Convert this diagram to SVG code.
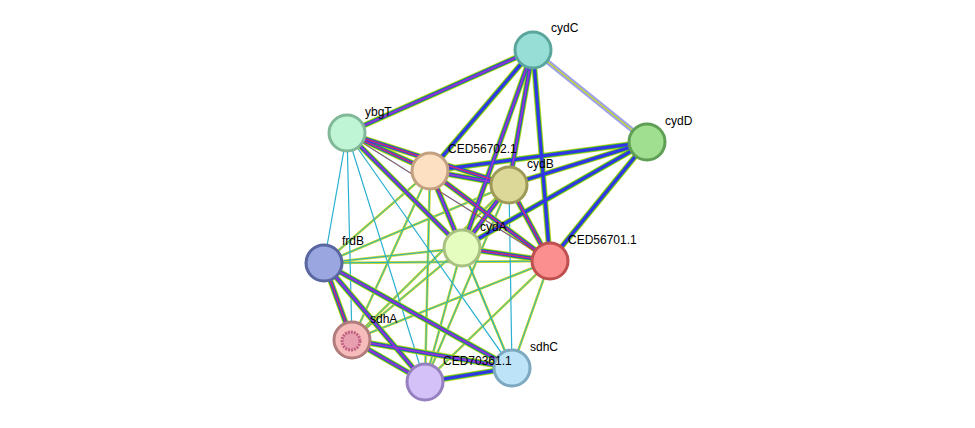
<svg xmlns="http://www.w3.org/2000/svg" width="975" height="428" viewBox="0 0 975 428">
<style>
.a{stroke:#c8d630;stroke-width:6;fill:none}
.b{stroke:#30b830;stroke-width:4.4;fill:none}
.c{stroke:#3333e8;stroke-width:3;fill:none}
.d{stroke:#9a3ad0;stroke-width:1.6;fill:none}
.e{stroke:#e03030;stroke-width:0.8;fill:none}
.t1{stroke:#c8d630;stroke-width:2.6;fill:none}
.t2{stroke:#2ab5b5;stroke-width:1;fill:none}
.cy{stroke:#2ab0d0;stroke-width:1.2;fill:none}
circle{stroke-width:3}
text{font-family:"Liberation Sans",Arial,sans-serif;font-size:12px;fill:#000}
</style>
<rect width="975" height="428" fill="#fff"/>
<g id="edges">
<g id="thin">
<path class="t1" d="M324 263L462 248M324 263L550 261M324 263L430 171M352 340L462 248M352 340L509 185M352 340L430 171M425 382L462 248M425 382L430 171M512 368L462 248M512 368L550 261M512 368L430 171M425 382L550 261M425 382L509 185M324 263L509 185M352 340L550 261"/>
<path class="t2" d="M324 263L462 248M324 263L550 261M324 263L430 171M352 340L462 248M352 340L509 185M352 340L430 171M425 382L462 248M425 382L430 171M512 368L462 248M512 368L550 261M512 368L430 171M425 382L550 261M425 382L509 185M324 263L509 185M352 340L550 261"/>
<path class="cy" d="M347 133L512 368M347 133L324 263M347 133L352 340M347 133L425 382M347 133L550 261M512 368L509 185"/>
</g>
<g id="rich">
<path class="a" d="M533 50L347 133M533 50L430 171M533 50L509 185M533 50L462 248M533 50L550 261M647 142L430 171M647 142L509 185M647 142L462 248M647 142L550 261M347 133L430 171M347 133L509 185M347 133L462 248M430 171L509 185M430 171L462 248M430 171L550 261M509 185L462 248M509 185L550 261M462 248L550 261M324 263L352 340M324 263L425 382M324 263L512 368M352 340L425 382M352 340L512 368M425 382L512 368"/>
<path class="b" d="M533 50L347 133M533 50L430 171M533 50L509 185M533 50L462 248M533 50L550 261M647 142L430 171M647 142L509 185M647 142L462 248M647 142L550 261M347 133L430 171M347 133L509 185M347 133L462 248M430 171L509 185M430 171L462 248M430 171L550 261M509 185L462 248M509 185L550 261M462 248L550 261M324 263L352 340M324 263L425 382M324 263L512 368M352 340L425 382M352 340L512 368M425 382L512 368"/>
<path class="c" d="M533 50L347 133M533 50L430 171M533 50L509 185M533 50L462 248M533 50L550 261M647 142L430 171M647 142L509 185M647 142L462 248M647 142L550 261M347 133L430 171M347 133L509 185M347 133L462 248M430 171L509 185M430 171L462 248M430 171L550 261M509 185L462 248M509 185L550 261M462 248L550 261M324 263L352 340M324 263L425 382M352 340L425 382M324 263L512 368M352 340L512 368M425 382L512 368"/>
<path class="d" d="M533 50L347 133M533 50L509 185M533 50L462 248M347 133L430 171M347 133L509 185M347 133L462 248M430 171L509 185M430 171L462 248M430 171L550 261M509 185L462 248M509 185L550 261M462 248L550 261M324 263L352 340M324 263L425 382M352 340L425 382M324 263L512 368M352 340L512 368"/>
<path class="e" d="M347 133L430 171M347 133L550 261M430 171L550 261M509 185L550 261M462 248L550 261M324 263L352 340M347 133L509 185"/>
<path d="M533 50L647 142" stroke="#9aa0f0" stroke-width="5" fill="none"/>
<path d="M533 50L647 142" stroke="#c8d630" stroke-width="1.5" fill="none"/>
</g>
</g>
<g id="cydC"><circle cx="533" cy="50" r="18" fill="#97dfd6" stroke="#5aa69c"/><text x="551" y="32">cydC</text></g>
<g id="cydD"><circle cx="647" cy="142" r="18" fill="#9fdf8f" stroke="#5f9f55"/><text x="665" y="125">cydD</text></g>
<g id="ybgT"><circle cx="347" cy="133" r="18" fill="#bff5d5" stroke="#80b898"/><text x="365" y="116">ybgT</text></g>
<g id="cydB"><circle cx="509" cy="185" r="18" fill="#dcd898" stroke="#9e9a58"/><text x="527" y="168">cydB</text></g>
<g id="CED56702.1"><circle cx="430" cy="171" r="18" fill="#fddfc2" stroke="#c2a080"/><text x="448" y="153">CED56702.1</text></g>
<g id="CED56701.1"><circle cx="550" cy="261" r="18" fill="#fb8e8e" stroke="#c05050"/><text x="568" y="244">CED56701.1</text></g>
<g id="cydA"><circle cx="462" cy="248" r="18" fill="#e5fec0" stroke="#a8c080"/><text x="480" y="231">cydA</text></g>
<g id="frdB"><circle cx="324" cy="263" r="18" fill="#9aa6e0" stroke="#5a66a0"/><text x="342" y="245">frdB</text></g>
<g id="sdhA"><circle cx="352" cy="340" r="18" fill="#f6bcbc" stroke="#b07c7c"/><circle cx="351" cy="341" r="9" fill="#e8a0b0" stroke="#c06080" stroke-width="1" stroke-dasharray="2 1"/><text x="370" y="323">sdhA</text></g>
<g id="sdhC"><circle cx="512" cy="368" r="18" fill="#bce3f7" stroke="#7ca8c0"/><text x="530" y="351">sdhC</text></g>
<g id="CED70361.1"><circle cx="425" cy="382" r="18" fill="#d3c1f8" stroke="#9680c0"/><text x="443" y="365">CED70361.1</text></g>
</svg>
